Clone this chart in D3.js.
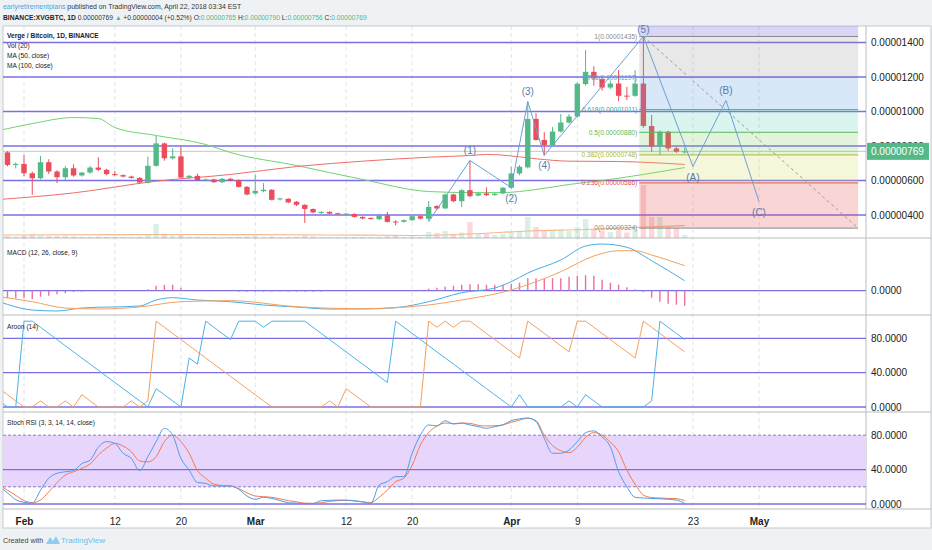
<!DOCTYPE html>
<html lang="en">
<head>
<meta charset="UTF-8">
<title>XVGBTC 1D</title>
<script src="https://d3js.org/d3.v7.min.js"></script>
<style>
  body { margin: 0; background: #eff2f5; }
  svg { display: block; font-family: "Liberation Sans", Arial, sans-serif; }
</style>
</head>
<body>
<svg id="chart"></svg>
<script>
// ---------------- data (prices in satoshi) ----------------
const candleStart = new Date(2018, 0, 30);
const indStart = new Date(2018, 0, 29);
const endDay = new Date(2018, 3, 23);

const open = [763, 690,
  696, 642, 613, 706, 652, 619, 671, 629, 646, 675, 662, 637, 631, 623, 615, 588, 685, 815, 729, 740, 617, 627, 602, 606, 590, 610, 602, 563,
  525, 538, 546, 490, 494, 477, 459, 435, 412, 418, 410, 404, 406, 389, 383, 376, 399, 362, 361, 370, 393, 378, 452, 438, 519, 480, 544, 513, 525, 515, 525,
  558, 641, 676, 957, 835, 806, 884, 936, 971, 1159, 1230, 1188, 1139, 1162, 1092, 1091, 1162, 916, 796, 883, 786, 765];
const high = [770, 705,
  748, 652, 742, 723, 660, 685, 694, 650, 685, 735, 668, 655, 636, 628, 620, 738, 858, 820, 787, 796, 632, 640, 612, 610, 614, 615, 606, 568,
  633, 585, 550, 500, 498, 480, 462, 438, 422, 422, 414, 412, 410, 392, 386, 403, 418, 370, 375, 396, 398, 480, 457, 525, 524, 549, 716, 530, 560, 528, 562,
  680, 690, 1058, 990, 880, 910, 985, 985, 1170, 1356, 1262, 1200, 1180, 1240, 1143, 1240, 1435, 980, 890, 888, 795, 790];
const low = [682, 670,
  625, 517, 606, 637, 585, 600, 622, 622, 640, 655, 630, 625, 618, 610, 582, 583, 680, 715, 722, 612, 610, 596, 595, 585, 586, 596, 558, 514,
  518, 532, 484, 484, 468, 452, 354, 410, 405, 404, 400, 398, 385, 374, 372, 370, 356, 340, 355, 366, 374, 362, 430, 435, 474, 446, 502, 508, 510, 512, 520,
  552, 630, 670, 830, 745, 800, 878, 930, 965, 1150, 1150, 1120, 1130, 1060, 1066, 1085, 905, 766, 746, 770, 760, 756];
const close = [690, 696,
  642, 613, 706, 652, 619, 671, 629, 646, 675, 662, 637, 631, 623, 615, 588, 685, 815, 729, 740, 617, 627, 602, 606, 590, 610, 602, 563, 519,
  540, 546, 488, 496, 473, 459, 435, 415, 418, 408, 404, 408, 389, 380, 377, 399, 360, 361, 370, 393, 379, 447, 438, 519, 480, 544, 509, 525, 515, 523, 558,
  641, 680, 957, 835, 806, 884, 936, 971, 1161, 1230, 1192, 1139, 1162, 1091, 1090, 1162, 916, 796, 883, 786, 767, 769];
const volume = [20, 15,
  25, 30, 25, 18, 18, 22, 15, 12, 12, 15, 10, 8, 8, 8, 12, 40, 140, 45, 25, 30, 12, 12, 8, 10, 8, 8, 12, 15,
  20, 12, 15, 8, 10, 12, 25, 15, 10, 8, 8, 8, 10, 10, 8, 12, 15, 20, 10, 15, 10, 60, 50, 70, 40, 55, 160, 40, 45, 30, 40,
  60, 70, 210, 110, 80, 75, 80, 70, 110, 190, 90, 75, 60, 80, 55, 90, 530, 210, 210, 110, 100, 30];

// moving averages, sampled where read
const ma50Dates = ["2018-01-29", "2018-02-02", "2018-02-07", "2018-02-10", "2018-02-12", "2018-02-17", "2018-02-23", "2018-02-26",
  "2018-03-06", "2018-03-14", "2018-03-22", "2018-03-27", "2018-03-31", "2018-04-04", "2018-04-08", "2018-04-12", "2018-04-17", "2018-04-22"];
const ma50 = [890, 930, 965, 959, 907, 861, 809, 762, 687, 606, 536, 530, 530, 548, 577, 600, 635, 675];
const ma100Dates = ["2018-01-29", "2018-02-07", "2018-02-17", "2018-02-26", "2018-03-06", "2018-03-14", "2018-03-22", "2018-03-27",
  "2018-03-29", "2018-03-31", "2018-04-04", "2018-04-08", "2018-04-14", "2018-04-22"];
const ma100 = [490, 528, 596, 635, 681, 712, 735, 745, 751, 747, 726, 712, 710, 693];
const volMaDates = ["2018-01-29", "2018-02-20", "2018-03-10", "2018-03-20", "2018-03-27", "2018-04-03", "2018-04-10", "2018-04-17", "2018-04-22"];
const volMa = [30, 35, 30, 25, 40, 70, 85, 110, 125];

// MACD (satoshi)
const macdDates = ["2018-01-29", "2018-02-02", "2018-02-05", "2018-02-08", "2018-02-15", "2018-02-17", "2018-02-19", "2018-02-22", "2018-02-26",
  "2018-03-02", "2018-03-06", "2018-03-10", "2018-03-14", "2018-03-18", "2018-03-22", "2018-03-26", "2018-03-30", "2018-04-01", "2018-04-03",
  "2018-04-07", "2018-04-10", "2018-04-12", "2018-04-15", "2018-04-18", "2018-04-22"];
const macdLine = [-22, -38.6, -40.6, -34.6, -30.6, -18.6, -14, -18.6, -22, -28.6, -32.6, -36.6, -36.6, -34, -22, -4, 5.4, 18, 35.4, 61.4, 89.4, 93.4, 86.8, 60, 20];
const signalDates = ["2018-01-29", "2018-02-02", "2018-02-06", "2018-02-10", "2018-02-15", "2018-02-20", "2018-02-26", "2018-03-06", "2018-03-14",
  "2018-03-18", "2018-03-22", "2018-03-26", "2018-04-01", "2018-04-07", "2018-04-11", "2018-04-14", "2018-04-16", "2018-04-18", "2018-04-22"];
const signalLine = [-12, -22, -34.6, -36.6, -32.6, -22, -20, -32, -36, -34, -28.6, -18.6, 1.4, 38, 69.4, 80, 80, 71.4, 50];
const histogram = [-15, -15,
  -15, -17, -12, -10, -7, -5, -3, -2, -1, 0, 0, 0, 0, 1, 1, 3, 10, 12, 12, 6, 1, 0, 0, -1, -1, -1, -2, -2,
  -2, -2, -2, -2, -2, -2, -2, -2, -2, -1, -1, -1, -1, 0, 0, 0, 0, 0, 0, 1, 2, 4, 6, 8, 10, 12, 13, 13, 12, 12, 12,
  14, 16, 25, 25, 24, 25, 25, 28, 30, 31, 30, 22, 16, 12, 7, 3, -3, -14, -22, -26, -28, -30];

// Aroon (14), from Jan 29
const aroonUp = [21.4, 14.3, 7.1,
  0, 0, 7.1, 0, 0, 7.1, 0, 14.3, 7.1, 0, 0, 0, 0, 7.1, 0, 7.1, 100, 92.9, 85.7, 78.6, 71.4, 64.3, 57.1, 50, 42.9, 35.7, 28.6, 21.4,
  14.3, 7.1, 0, 0, 0, 0, 0, 0, 0, 7.1, 0, 21.4, 14.3, 7.1, 0, 0, 0, 0, 0, 0, 0, 100, 92.9, 100, 92.9, 100, 100, 92.9, 85.7, 78.6, 71.4,
  64.3, 57.1, 100, 92.9, 85.7, 78.6, 71.4, 64.3, 100, 100, 92.9, 85.7, 78.6, 71.4, 64.3, 57.1, 100, 92.9, 85.7, 78.6, 71.4, 64.3];
const aroonDown = [7.1, 0, 0,
  100, 100, 92.9, 85.7, 78.6, 71.4, 64.3, 57.1, 50, 42.9, 35.7, 28.6, 21.4, 14.3, 7.1, 0, 21.4, 14.3, 7.1, 0, 57.1, 50, 100, 92.9, 85.7, 78.6, 100, 100,
  100, 92.9, 100, 100, 100, 100, 100, 92.9, 85.7, 78.6, 71.4, 64.3, 57.1, 50, 42.9, 35.7, 28.6, 100, 92.9, 85.7, 78.6, 71.4, 64.3, 57.1, 50, 42.9, 35.7, 28.6, 21.4, 14.3, 7.1,
  0, 14.3, 0, 0, 0, 0, 0, 7.1, 0, 14.3, 7.1, 0, 0, 0, 0, 0, 0, 7.1, 100, 92.9, 85.7, 78.6];

// Stoch RSI (3, 3, 14, 14), from Jan 29
const stochK = [20, 13, 5,
  2, 1, 16, 30, 35.7, 37.5, 38.8, 47, 51, 66, 72.5, 70.5, 59, 53, 38.8, 55, 72.5, 88, 80, 53, 39.5, 25, 24, 21, 21, 21, 17, 9.3,
  5.4, 7.8, 6.5, 4, 1.5, 1, 0.5, 0.5, 3.9, 4.3, 4.6, 4.5, 3.9, 2.5, 0.8, 22, 26, 31.8, 31.8, 59, 80, 91.9, 90.7, 96.9, 93, 94, 91.9, 90, 88, 90, 92,
  96.9, 99, 100, 95.7, 76.4, 59, 59, 62.8, 72.5, 83, 85, 78, 66.6, 37.6, 20, 7.8, 7, 6.5, 6, 5.5, 4.6, 0.8];
const stochD = [22, 16, 10,
  4, 1.5, 4.6, 14, 24.8, 33.7, 37.5, 41.5, 46.5, 57, 65, 70.5, 67.4, 60.8, 50, 49, 55, 72.5, 80, 72.5, 59, 38.8, 30, 23, 21.5, 21, 18, 13,
  9.3, 8.5, 7.8, 6, 3.9, 2.5, 1, 0.8, 1.5, 3, 3.9, 4.2, 3.5, 2.5, 1.5, 7.8, 16, 26, 30, 45, 68.6, 83, 90.7, 94.2, 93.5, 94.2, 93.8, 91.5, 90.7, 91, 92,
  95, 97.5, 99.6, 96.9, 80, 68, 62, 59.7, 66, 77.5, 83, 80, 72, 60.8, 39.5, 23, 10.5, 7.5, 7, 6.5, 6.2, 4];

// Elliott wave count
const waveDates = ["2018-03-22", "2018-03-27", "2018-04-01", "2018-04-03", "2018-04-05", "2018-04-17", "2018-04-23", "2018-04-27", "2018-05-01"];
const wavePrices = [362, 716, 559, 1058, 745, 1435, 681, 1064, 478];
const waveLabels = ["", "(1)", "(2)", "(3)", "(4)", "(5)", "(A)", "(B)", "(C)"];

// Fibonacci retracement anchors
const fibLow = 324, fibHigh = 1435;
const fibLevels = [0, 0.236, 0.382, 0.5, 0.618, 0.786, 1, 1.618];
const fibColors = ["#8a8a8a", "#d9534f", "#aab736", "#5cb85c", "#35a99b", "#5b9cd6", "#8a8a8a", "#6a5fd8"];
const fibFills = ["rgba(230,80,80,0.24)", "rgba(200,215,70,0.2)", "rgba(110,200,90,0.2)", "rgba(70,200,170,0.2)",
  "rgba(90,160,225,0.24)", "rgba(140,140,140,0.2)", "rgba(90,80,220,0.24)"];

const priceTicks = [400, 600, 800, 1000, 1200, 1400];
const lastPrice = 769;
const tickDates = ["2018-02-01", "2018-02-12", "2018-02-20", "2018-03-01", "2018-03-12", "2018-03-20", "2018-04-01", "2018-04-09", "2018-04-23", "2018-05-01"];
const tickLabels = ["Feb", "12", "20", "Mar", "12", "20", "Apr", "9", "23", "May"];

// ---------------- layout ----------------
const W = 932, H = 550;
const L = 3, R = 866, AX = 931;
const main = [26, 238], macdP = [238, 315], aroonP = [315, 412], stochP = [412, 509], axisBottom = 528;
const purple = "#7b6fe3";
const green = "#53b987", red = "#eb4d5c";
const smallFont = 6.6;

const parse = d3.timeParse("%Y-%m-%d");
const candleDays = d3.timeDay.range(candleStart, endDay);
const indDays = d3.timeDay.range(indStart, endDay);

const x = d3.scaleTime().domain([new Date(2018, 1, 1), new Date(2018, 4, 1)]).range([24, 759]);
const yMain = d3.scaleLinear().domain([400, 1400]).range([215, 42.5]);
const yVol = d3.scaleLinear().domain([0, 600]).range([main[1], main[1] - 60]);
const yMacd = d3.scaleLinear().domain([0, 100]).range([290.7, 240.7]);
const yAroon = d3.scaleLinear().domain([0, 100]).range([407, 321.2]);
const yStoch = d3.scaleLinear().domain([0, 100]).range([504, 418]);

const fmt8 = v => d3.format(".8f")(Math.round(v) * 1e-8);
const fmt4 = d3.format(".4f");

const svg = d3.select("#chart").attr("width", W).attr("height", H);

// page background and frame
svg.append("rect").attr("width", W).attr("height", H).attr("fill", "#eff2f5");
svg.append("rect").attr("x", L).attr("y", main[0]).attr("width", AX - L).attr("height", axisBottom - main[0])
  .attr("fill", "#fff").attr("stroke", "#c6c9cd");

// header text
const h1 = svg.append("text").attr("x", 3).attr("y", 9).attr("font-size", 6.9).attr("fill", "#333");
h1.append("tspan").attr("fill", "#4aa6dc").text("earlyretirementplans");
h1.append("tspan").text(" published on TradingView.com, April 22, 2018 03:34 EST");
const h2 = svg.append("text").attr("x", 3).attr("y", 20).attr("font-size", 6.7).attr("fill", "#333");
h2.append("tspan").attr("font-weight", "bold").attr("fill", "#222").text("BINANCE:XVGBTC, 1D");
h2.append("tspan").text(" 0.00000769 ");
h2.append("tspan").attr("fill", green).text("▲");
h2.append("tspan").text(" +0.00000004 (+0.52%) O:");
h2.append("tspan").attr("fill", green).text("0.00000765");
h2.append("tspan").text(" H:");
h2.append("tspan").attr("fill", green).text("0.00000790");
h2.append("tspan").text(" L:");
h2.append("tspan").attr("fill", green).text("0.00000756");
h2.append("tspan").text(" C:");
h2.append("tspan").attr("fill", green).text("0.00000769");

// clip paths per pane
const defs = svg.append("defs");
[["clipMain", main], ["clipMacd", macdP], ["clipAroon", aroonP], ["clipStoch", stochP]].forEach(([id, p]) => {
  defs.append("clipPath").attr("id", id).append("rect")
    .attr("x", L).attr("y", p[0]).attr("width", R - L).attr("height", p[1] - p[0]);
});

// vertical dashed grid
svg.append("g").selectAll("line").data(tickDates).join("line")
  .attr("x1", d => x(parse(d))).attr("x2", d => x(parse(d)))
  .attr("y1", main[0]).attr("y2", stochP[1])
  .attr("stroke", "#e1e3e7").attr("stroke-dasharray", "4,3");

// pane separators
[main[1], macdP[1], aroonP[1], stochP[1]].forEach(yy => {
  svg.append("line").attr("x1", L).attr("x2", AX).attr("y1", yy).attr("y2", yy).attr("stroke", "#b9bcc0");
});
svg.append("line").attr("x1", R).attr("x2", R).attr("y1", main[0]).attr("y2", stochP[1]).attr("stroke", "#b9bcc0");

function hline(g, yy, dash) {
  g.append("line").attr("x1", L).attr("x2", R).attr("y1", yy).attr("y2", yy)
    .attr("stroke", purple).attr("stroke-width", 1.3).attr("stroke-dasharray", dash || null);
}

// ================= main pane =================
const gm = svg.append("g").attr("clip-path", "url(#clipMain)");
priceTicks.forEach(p => hline(gm, yMain(p)));

// last price line
gm.append("line").attr("x1", L).attr("x2", R).attr("y1", yMain(lastPrice)).attr("y2", yMain(lastPrice))
  .attr("stroke", "#b9cfc3").attr("stroke-width", 1);

// volume
const bw = 5.4;
gm.append("g").selectAll("rect").data(volume).join("rect")
  .attr("x", (d, i) => x(candleDays[i]) - bw / 2).attr("width", bw)
  .attr("y", d => yVol(d)).attr("height", d => yVol(0) - yVol(d))
  .attr("fill", (d, i) => close[i] >= open[i] ? "rgba(83,185,135,0.22)" : "rgba(235,77,92,0.22)");
gm.append("path").datum(volMaDates.map((d, i) => [parse(d), volMa[i]]))
  .attr("fill", "none").attr("stroke", "#f2b98c").attr("stroke-width", 1.2)
  .attr("d", d3.line().x(d => x(d[0])).y(d => yVol(d[1])).curve(d3.curveMonotoneX));

// moving averages
const maLine = d3.line().x(d => x(d[0])).y(d => yMain(d[1])).curve(d3.curveMonotoneX);
gm.append("path").datum(ma50Dates.map((d, i) => [parse(d), ma50[i]]))
  .attr("fill", "none").attr("stroke", "#6fd36f").attr("stroke-width", 1).attr("d", maLine);
gm.append("path").datum(ma100Dates.map((d, i) => [parse(d), ma100[i]]))
  .attr("fill", "none").attr("stroke", "#ee6e68").attr("stroke-width", 1).attr("d", maLine);

// candles
const candles = gm.append("g").selectAll("g").data(candleDays).join("g");
candles.append("line")
  .attr("x1", d => x(d)).attr("x2", d => x(d))
  .attr("y1", (d, i) => yMain(high[i])).attr("y2", (d, i) => yMain(low[i]))
  .attr("stroke", (d, i) => close[i] >= open[i] ? green : red);
candles.append("rect")
  .attr("x", d => x(d) - bw / 2).attr("width", bw)
  .attr("y", (d, i) => yMain(Math.max(open[i], close[i])))
  .attr("height", (d, i) => Math.max(1, Math.abs(yMain(open[i]) - yMain(close[i]))))
  .attr("fill", (d, i) => close[i] >= open[i] ? green : red);

// fibonacci retracement (drawn over the series, translucent)
const fibX0 = x(new Date(2018, 3, 16, 12)), fibX1 = x(new Date(2018, 4, 13));
const fibPrice = l => fibLow + l * (fibHigh - fibLow);
const fg = gm.append("g");
fg.selectAll("rect").data(fibLevels.slice(0, -1)).join("rect")
  .attr("x", fibX0).attr("width", fibX1 - fibX0)
  .attr("y", (l, i) => yMain(fibPrice(fibLevels[i + 1])))
  .attr("height", (l, i) => yMain(fibPrice(l)) - yMain(fibPrice(fibLevels[i + 1])))
  .attr("fill", (l, i) => fibFills[i]);
fg.selectAll("line").data(fibLevels).join("line")
  .attr("x1", fibX0).attr("x2", fibX1)
  .attr("y1", l => yMain(fibPrice(l))).attr("y2", l => yMain(fibPrice(l)))
  .attr("stroke", (l, i) => fibColors[i]).attr("stroke-width", 1);
// only the levels that sit inside the pane get a label
fg.selectAll("text").data(fibLevels.filter(l => l <= 1)).join("text")
  .attr("x", fibX0 - 2).attr("y", l => yMain(fibPrice(l)) + 2.3)
  .attr("text-anchor", "end").attr("font-size", 6.6)
  .attr("fill", (l, i) => fibColors[i])
  .text(l => `${l}(${fmt8(fibPrice(l))})`);
fg.append("line")
  .attr("x1", x(new Date(2018, 3, 17))).attr("y1", yMain(fibHigh))
  .attr("x2", fibX1).attr("y2", yMain(fibLow))
  .attr("stroke", "#9a9a9a").attr("stroke-dasharray", "3,3");

// elliott waves
const wavePts = waveDates.map((d, i) => [x(parse(d)), yMain(wavePrices[i])]);
gm.append("path").datum(wavePts).attr("fill", "none").attr("stroke", "#6f9fd4").attr("stroke-width", 1)
  .attr("d", d3.line());
svg.append("g").selectAll("text").data(wavePts).join("text")
  .attr("x", d => d[0])
  .attr("y", (d, i) => (i % 2 === 1 ? Math.max(d[1] - 6, main[0] + 7) : d[1] + 14))
  .attr("text-anchor", "middle").attr("font-size", 10).attr("fill", "#5a7ba6")
  .text((d, i) => waveLabels[i]);

// main legend
const legend = [["Verge / Bitcoin, 1D, BINANCE", "bold", 38], ["Vol (20)", "normal", 47.5], ["MA (50, close)", "normal", 57.5], ["MA (100, close)", "normal", 67.5]];
legend.forEach(([t, w, yy]) => svg.append("text").attr("x", 7).attr("y", yy).attr("font-size", smallFont)
  .attr("font-weight", w).attr("fill", "#222").text(t));

// price axis
const axMain = svg.append("g").attr("transform", `translate(${R},0)`)
  .call(d3.axisRight(yMain).tickValues(priceTicks).tickFormat(fmt8).tickSize(0).tickPadding(5));
axMain.select(".domain").remove();
axMain.selectAll("text").attr("font-size", 10).attr("fill", "#222").attr("font-family", "Liberation Sans, Arial, sans-serif");
svg.append("rect").attr("x", R + 1).attr("y", yMain(lastPrice) - 8.5).attr("width", AX - R - 3).attr("height", 17).attr("fill", green);
svg.append("text").attr("x", R + 5).attr("y", yMain(lastPrice) + 3.5).attr("font-size", 10).attr("fill", "#fff").text(fmt8(lastPrice));

// ================= MACD =================
const gmc = svg.append("g").attr("clip-path", "url(#clipMacd)");
hline(gmc, yMacd(0));
gmc.append("g").selectAll("line").data(histogram).join("line")
  .attr("x1", (d, i) => x(candleDays[i])).attr("x2", (d, i) => x(candleDays[i]))
  .attr("y1", yMacd(0)).attr("y2", d => yMacd(d))
  .attr("stroke", "#ee6f9f").attr("stroke-width", 1.4);
const lineMacd = d3.line().x(d => x(d[0])).y(d => yMacd(d[1])).curve(d3.curveMonotoneX);
gmc.append("path").datum(macdDates.map((d, i) => [parse(d), macdLine[i]]))
  .attr("fill", "none").attr("stroke", "#45aee8").attr("stroke-width", 1).attr("d", lineMacd);
gmc.append("path").datum(signalDates.map((d, i) => [parse(d), signalLine[i]]))
  .attr("fill", "none").attr("stroke", "#f5a05c").attr("stroke-width", 1).attr("d", lineMacd);
svg.append("text").attr("x", 7).attr("y", 254.5).attr("font-size", smallFont).attr("fill", "#222").text("MACD (12, 26, close, 9)");
const axMacd = svg.append("g").attr("transform", `translate(${R},0)`)
  .call(d3.axisRight(yMacd).tickValues([0]).tickFormat(fmt4).tickSize(0).tickPadding(5));
axMacd.select(".domain").remove();
axMacd.selectAll("text").attr("font-size", 10).attr("fill", "#222").attr("font-family", "Liberation Sans, Arial, sans-serif");

// ================= Aroon =================
const ga = svg.append("g").attr("clip-path", "url(#clipAroon)");
[0, 40, 80].forEach(v => hline(ga, yAroon(v)));
const lineAroon = d3.line().x((d, i) => x(indDays[i])).y(d => yAroon(d));
ga.append("path").datum(aroonUp).attr("fill", "none").attr("stroke", "#f5a05c").attr("stroke-width", 1).attr("d", lineAroon);
ga.append("path").datum(aroonDown).attr("fill", "none").attr("stroke", "#4db2e6").attr("stroke-width", 1).attr("d", lineAroon);
svg.append("text").attr("x", 7).attr("y", 328.5).attr("font-size", smallFont).attr("fill", "#222").text("Aroon (14)");
const axAroon = svg.append("g").attr("transform", `translate(${R},0)`)
  .call(d3.axisRight(yAroon).tickValues([0, 40, 80]).tickFormat(fmt4).tickSize(0).tickPadding(5));
axAroon.select(".domain").remove();
axAroon.selectAll("text").attr("font-size", 10).attr("fill", "#222").attr("font-family", "Liberation Sans, Arial, sans-serif");

// ================= Stoch RSI =================
const gs = svg.append("g").attr("clip-path", "url(#clipStoch)");
gs.append("rect").attr("x", L).attr("width", R - L).attr("y", yStoch(80)).attr("height", yStoch(20) - yStoch(80)).attr("fill", "#e8d5fb");
[0, 40].forEach(v => hline(gs, yStoch(v)));
[20, 80].forEach(v => gs.append("line").attr("x1", L).attr("x2", R).attr("y1", yStoch(v)).attr("y2", yStoch(v))
  .attr("stroke", "#8b7bc4").attr("stroke-dasharray", "3,2"));
const lineStoch = d3.line().x((d, i) => x(indDays[i])).y(d => yStoch(d)).curve(d3.curveMonotoneX);
gs.append("path").datum(stochD).attr("fill", "none").attr("stroke", "#f27a52").attr("stroke-width", 1).attr("d", lineStoch);
gs.append("path").datum(stochK).attr("fill", "none").attr("stroke", "#4f9ce8").attr("stroke-width", 1).attr("d", lineStoch);
svg.append("text").attr("x", 7).attr("y", 424.5).attr("font-size", smallFont).attr("fill", "#222").text("Stoch RSI (3, 3, 14, 14, close)");
const axStoch = svg.append("g").attr("transform", `translate(${R},0)`)
  .call(d3.axisRight(yStoch).tickValues([0, 40, 80]).tickFormat(fmt4).tickSize(0).tickPadding(5));
axStoch.select(".domain").remove();
axStoch.selectAll("text").attr("font-size", 10).attr("fill", "#222").attr("font-family", "Liberation Sans, Arial, sans-serif");

// ================= time axis =================
const axTime = svg.append("g").attr("transform", `translate(0,${stochP[1]})`)
  .call(d3.axisBottom(x).tickValues(tickDates.map(parse)).tickFormat((d, i) => tickLabels[i]).tickSize(0).tickPadding(9));
axTime.select(".domain").remove();
axTime.selectAll("text").attr("font-size", 10).attr("fill", "#222").attr("font-family", "Liberation Sans, Arial, sans-serif")
  .attr("font-weight", (d, i) => isNaN(+tickLabels[i]) ? "bold" : "normal");

// footer
svg.append("text").attr("x", 3).attr("y", 543).attr("font-size", 7.2).attr("fill", "#444").text("Created with");
svg.append("path").attr("d", "M46,544 L50,537 L53,541 L56,536 L60,544 Z").attr("fill", "#8fcdef");
svg.append("text").attr("x", 61).attr("y", 543).attr("font-size", 8).attr("fill", "#6cbde9").text("TradingView");
</script>
</body>
</html>
